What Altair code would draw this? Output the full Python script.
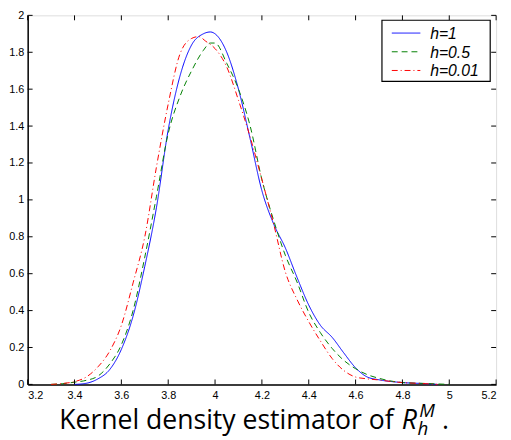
import altair as alt
import pandas as pd

# ---- data ----
series_names = ["h=1", "h=0.5", "h=0.01"]
series_colors = ["#0000ff", "#008000", "#ff0000"]
series_dashes = [[1, 0], [6, 4], [6, 3, 1, 3]]

x_h1 = [3.40, 3.45, 3.50, 3.55, 3.60, 3.65, 3.70, 3.75, 3.80, 3.85, 3.90, 3.95, 3.98, 4.00,
        4.05, 4.10, 4.15, 4.20, 4.25, 4.30, 4.35, 4.40, 4.45, 4.50, 4.55, 4.60, 4.65, 4.70,
        4.80, 4.90, 4.95]
y_h1 = [0.0, 0.006, 0.03, 0.08, 0.19, 0.37, 0.64, 0.96, 1.38, 1.67, 1.84, 1.90, 1.91, 1.90,
        1.80, 1.60, 1.33, 1.05, 0.87, 0.74, 0.58, 0.43, 0.32, 0.255, 0.17, 0.09, 0.04, 0.025,
        0.01, 0.004, 0.0]

x_h05 = [3.30, 3.35, 3.40, 3.45, 3.50, 3.55, 3.60, 3.65, 3.70, 3.75, 3.80, 3.85, 3.90, 3.95,
         3.98, 4.00, 4.05, 4.10, 4.15, 4.20, 4.25, 4.30, 4.35, 4.40, 4.45, 4.50, 4.55, 4.60,
         4.65, 4.70, 4.80, 4.90, 5.00]
y_h05 = [0.0, 0.004, 0.012, 0.022, 0.045, 0.11, 0.215, 0.40, 0.69, 1.02, 1.36, 1.56, 1.70, 1.81,
         1.85, 1.85, 1.74, 1.60, 1.40, 1.11, 0.89, 0.70, 0.555, 0.39, 0.28, 0.195, 0.13, 0.085,
         0.053, 0.033, 0.01, 0.005, 0.0]

x_h001 = [3.30, 3.35, 3.40, 3.45, 3.50, 3.55, 3.60, 3.65, 3.70, 3.75, 3.80, 3.85, 3.90, 3.93,
          3.96, 4.00, 4.05, 4.10, 4.15, 4.20, 4.25, 4.30, 4.35, 4.40, 4.45, 4.50, 4.55, 4.60,
          4.65, 4.70, 4.75, 4.80, 4.90, 4.95]
y_h001 = [0.0, 0.005, 0.015, 0.04, 0.095, 0.18, 0.32, 0.55, 0.80, 1.18, 1.52, 1.79, 1.875, 1.885,
          1.86, 1.82, 1.72, 1.54, 1.34, 1.11, 0.87, 0.61, 0.46, 0.34, 0.235, 0.14, 0.075, 0.04,
          0.03, 0.024, 0.016, 0.01, 0.004, 0.0]

x_ticks = [3.2, 3.4, 3.6, 3.8, 4.0, 4.2, 4.4, 4.6, 4.8, 5.0, 5.2]
y_ticks = [0, 0.2, 0.4, 0.6, 0.8, 1.0, 1.2, 1.4, 1.6, 1.8, 2.0]

title_main = "Kernel density estimator of"

# ---- build tables ----
rows = []
for name, xs, ys in zip(series_names, [x_h1, x_h05, x_h001], [y_h1, y_h05, y_h001]):
    for a, b in zip(xs, ys):
        rows.append({"x": a, "y": b, "series": name})
df = pd.DataFrame(rows)
xt = pd.DataFrame({"x": x_ticks})
yt = pd.DataFrame({"y": y_ticks})

W, H = 476, 375
TICK = 5
LABEL_FONT = "Liberation Sans"

xscale = alt.Scale(domain=[3.2, 5.2], nice=False, zero=False)
yscale = alt.Scale(domain=[0, 2], nice=False)

xaxis = alt.Axis(values=x_ticks, format="~g", ticks=False, grid=False, title=None,
                 labelPadding=5, labelFont=LABEL_FONT, labelFontSize=11,
                 labelColor="black", domainColor="black", domainWidth=1.5)
yaxis = alt.Axis(values=y_ticks, format="~g", ticks=False, grid=False, title=None,
                 labelPadding=4, labelFont=LABEL_FONT, labelFontSize=11,
                 labelColor="black", domainColor="black", domainWidth=1.5)

lines = alt.Chart(df).mark_line(strokeWidth=1, interpolate="monotone").encode(
    x=alt.X("x:Q", scale=xscale, axis=xaxis),
    y=alt.Y("y:Q", scale=yscale, axis=yaxis),
    color=alt.Color("series:N", scale=alt.Scale(domain=series_names, range=series_colors),
                    legend=None),
    strokeDash=alt.StrokeDash("series:N", scale=alt.Scale(domain=series_names, range=series_dashes),
                              legend=None),
)

tick_b = alt.Chart(xt).mark_rule(color="black", strokeWidth=1).encode(
    x=alt.X("x:Q", scale=xscale, axis=xaxis), y=alt.value(H), y2=alt.value(H - TICK))
tick_t = alt.Chart(xt).mark_rule(color="black", strokeWidth=1).encode(
    x=alt.X("x:Q", scale=xscale, axis=xaxis), y=alt.value(0), y2=alt.value(TICK))
tick_l = alt.Chart(yt).mark_rule(color="black", strokeWidth=1).encode(
    y=alt.Y("y:Q", scale=yscale, axis=yaxis), x=alt.value(0), x2=alt.value(TICK))
tick_r = alt.Chart(yt).mark_rule(color="black", strokeWidth=1).encode(
    y=alt.Y("y:Q", scale=yscale, axis=yaxis), x=alt.value(W), x2=alt.value(W - TICK))

# ---- legend box (drawn manually, MATLAB style) ----
LX0, LX1, LY0, LY1 = 360, 470, 5, 67
leg_box = alt.Chart(pd.DataFrame({"k": [0]})).mark_rect(
    fill="white", stroke="black", strokeWidth=1.2
).encode(x=alt.value(LX0), x2=alt.value(LX1), y=alt.value(LY0), y2=alt.value(LY1))
leg_layers = [leg_box]
for i, (name, col, dash) in enumerate(zip(series_names, series_colors, series_dashes)):
    yy = 18 + 19 * i
    leg_layers.append(
        alt.Chart(pd.DataFrame({"s": [name]})).mark_rule(
            color=col, strokeWidth=1, strokeDash=dash
        ).encode(x=alt.value(370), x2=alt.value(399), y=alt.value(yy))
    )
    leg_layers.append(
        alt.Chart(pd.DataFrame({"s": [name]})).mark_text(
            font=LABEL_FONT, fontSize=16, fontStyle="italic", align="left",
            baseline="middle", color="black"
        ).encode(text="s:N", x=alt.value(409), y=alt.value(yy + 1))
    )

# ---- caption below the axes ----
TFONT = "Open Sans"
TY = 420
t_main = alt.Chart(pd.DataFrame({"s": [title_main]})).mark_text(
    font=TFONT, fontSize=27, align="right", baseline="alphabetic", color="black"
).encode(text="s:N", x=alt.value(372), y=alt.value(TY))
t_R = alt.Chart(pd.DataFrame({"s": ["R"]})).mark_text(
    font=TFONT, fontSize=27, fontStyle="italic", align="left", baseline="alphabetic", color="black"
).encode(text="s:N", x=alt.value(380), y=alt.value(TY))
t_M = alt.Chart(pd.DataFrame({"s": ["M"]})).mark_text(
    font=TFONT, fontSize=19, fontStyle="italic", align="left", baseline="alphabetic", color="black"
).encode(text="s:N", x=alt.value(398), y=alt.value(TY - 12))
t_h = alt.Chart(pd.DataFrame({"s": ["h"]})).mark_text(
    font=TFONT, fontSize=19, fontStyle="italic", align="left", baseline="alphabetic", color="black"
).encode(text="s:N", x=alt.value(396), y=alt.value(TY + 6))
t_dot = alt.Chart(pd.DataFrame({"s": ["."]})).mark_text(
    font=TFONT, fontSize=27, align="left", baseline="alphabetic", color="black"
).encode(text="s:N", x=alt.value(421), y=alt.value(TY))

chart = alt.layer(lines, tick_b, tick_t, tick_l, tick_r, *leg_layers,
                  t_main, t_R, t_M, t_h, t_dot).properties(
    width=W, height=H,
    autosize=alt.AutoSizeParams(type="none"),
    padding={"left": 20, "top": 4, "right": 7, "bottom": 52},
).configure_view(stroke="black", strokeWidth=1).configure(background="white")

chart.save("out.html", embed_options={"renderer": "svg", "actions": False})
